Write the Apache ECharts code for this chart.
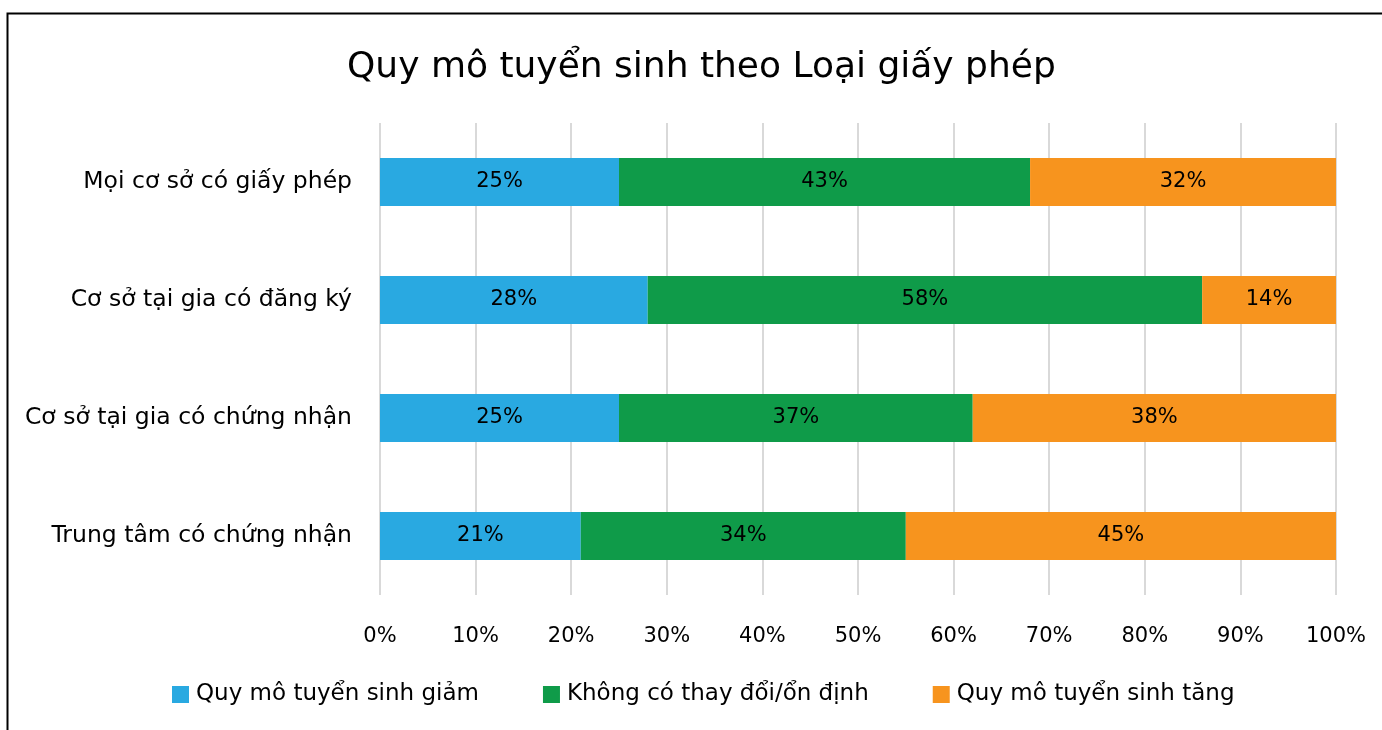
<!DOCTYPE html>
<html>
<head>
<meta charset="utf-8">
<script src="https://cdn.jsdelivr.net/npm/echarts@6/dist/echarts.min.js"></script>
<style>
  html, body { margin: 0; padding: 0; background: #fff; }
  #chart { width: 1382px; height: 730px; }
</style>
</head>
<body>
<div id="chart"></div>
<script>
var myChart = echarts.init(document.getElementById('chart'));

// danh mục, từ dưới lên trên
var categories = ['Trung tâm có chứng nhận', 'Cơ sở tại gia có chứng nhận', 'Cơ sở tại gia có đăng ký', 'Mọi cơ sở có giấy phép'];
var seriesNames = ['Quy mô tuyển sinh giảm', 'Không có thay đổi/ổn định', 'Quy mô tuyển sinh tăng'];
var giam = [21, 25, 28, 25];
var onDinh = [34, 37, 58, 43];
var tang = [45, 38, 14, 32];
var colors = ['#29A9E1', '#0F9B49', '#F7941E'];

var font = 'DejaVu Sans';

function makeSeries(name, data, color) {
  return {
    name: name,
    type: 'bar',
    stack: 'total',
    barWidth: 48,
    data: data,
    itemStyle: { color: color },
    label: {
      show: true,
      position: 'inside',
      formatter: '{c}%',
      color: '#000',
      fontSize: 21,
      fontFamily: font
    }
  };
}

var option = {
  animation: false,
  graphic: [{
    type: 'rect',
    left: 5,
    top: 11,
    shape: { width: 1400, height: 800 },
    style: { fill: 'none', stroke: '#000', lineWidth: 2 },
    silent: true
  }],
  title: {
    text: 'Quy mô tuyển sinh theo Loại giấy phép',
    left: 342,
    top: 45,
    textStyle: { fontSize: 36, fontWeight: 'normal', color: '#000', fontFamily: font }
  },
  legend: {
    bottom: 19,
    left: 167,
    itemWidth: 17,
    itemHeight: 17,
    itemGap: 64,
    icon: 'rect',
    textStyle: { fontSize: 23, color: '#000', fontFamily: font, padding: [0, 0, 0, 2] },
    data: seriesNames
  },
  grid: {
    left: 380,
    right: 46,
    top: 123,
    bottom: 135,
    containLabel: false
  },
  xAxis: {
    type: 'value',
    min: 0,
    max: 100,
    interval: 10,
    axisLabel: {
      formatter: '{value}%',
      fontSize: 21,
      color: '#000',
      fontFamily: font,
      margin: 31
    },
    axisLine: { show: false },
    axisTick: { show: false },
    splitLine: { lineStyle: { color: '#d9d9d9', width: 2 } }
  },
  yAxis: {
    type: 'category',
    data: categories,
    axisLabel: { fontSize: 23.5, color: '#000', fontFamily: font, margin: 28 },
    axisLine: { show: false },
    axisTick: { show: false }
  },
  series: [
    makeSeries(seriesNames[0], giam, colors[0]),
    makeSeries(seriesNames[1], onDinh, colors[1]),
    makeSeries(seriesNames[2], tang, colors[2])
  ]
};

myChart.setOption(option);
</script>
</body>
</html>
